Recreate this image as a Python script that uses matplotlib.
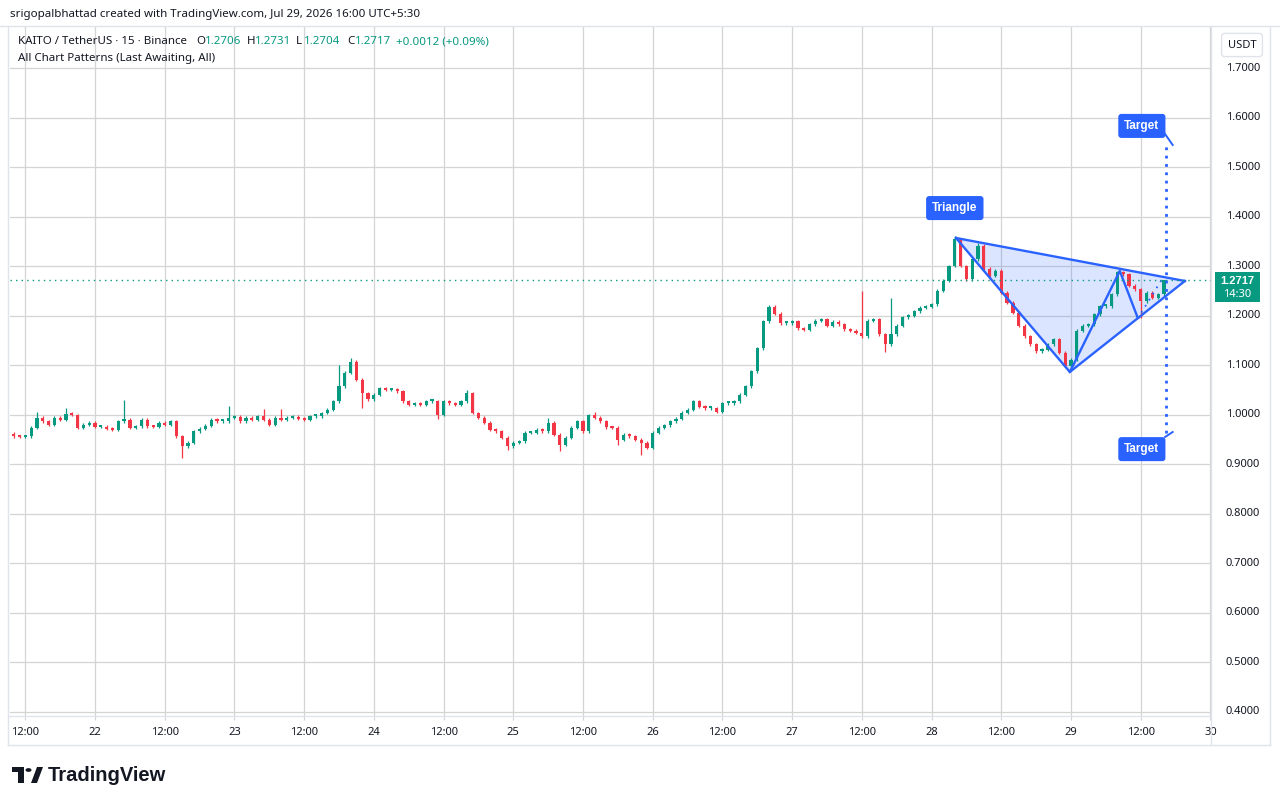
import matplotlib
matplotlib.use("Agg")
import matplotlib.pyplot as plt
import matplotlib.transforms as mtransforms
from matplotlib.patches import Rectangle, Polygon

plt.rcParams['font.family'] = ['Noto Sans', 'DejaVu Sans']

# hourly closes, starting Jul 21 10:00 (UTC+5:30)
closes = [
    0.957, 0.956, 0.957, 0.974, 0.994, 0.987, 0.980, 0.994, 0.990, 1.003,
    1.000, 0.974, 0.980, 0.984, 0.976, 0.976, 0.972, 0.970, 0.987, 0.990,
    0.974, 0.977, 0.990, 0.977, 0.976, 0.984, 0.980, 0.987, 0.957, 0.937,
    0.944, 0.967, 0.972, 0.978, 0.990, 0.987, 0.987, 0.994, 0.996, 0.987,
    0.994, 0.990, 0.997, 0.990, 0.980, 0.994, 0.990, 0.994, 0.996, 0.992,
    0.990, 0.997, 0.997, 1.004, 1.011, 1.028, 1.058, 1.085, 1.108, 1.071,
    1.044, 1.032, 1.041, 1.054, 1.051, 1.051, 1.048, 1.028, 1.021, 1.024,
    1.021, 1.028, 1.028, 1.000, 1.028, 1.024, 1.021, 1.028, 1.044, 1.004,
    0.994, 0.984, 0.970, 0.967, 0.954, 0.937, 0.944, 0.947, 0.964, 0.964,
    0.970, 0.967, 0.984, 0.960, 0.940, 0.954, 0.974, 0.987, 0.967, 0.999,
    0.994, 0.987, 0.975, 0.974, 0.950, 0.960, 0.957, 0.950, 0.944, 0.934,
    0.964, 0.974, 0.979, 0.987, 0.992, 1.005, 1.011, 1.028, 1.017, 1.014,
    1.014, 1.007, 1.024, 1.024, 1.028, 1.041, 1.058, 1.088, 1.135, 1.189,
    1.219, 1.205, 1.185, 1.185, 1.189, 1.175, 1.172, 1.183, 1.190, 1.193,
    1.180, 1.188, 1.183, 1.173, 1.170, 1.166, 1.159, 1.190, 1.193, 1.163,
    1.143, 1.163, 1.180, 1.197, 1.200, 1.210, 1.217, 1.219, 1.224, 1.251,
    1.271, 1.301, 1.355, 1.301, 1.274, 1.315, 1.342, 1.295, 1.281, 1.291,
    1.247, 1.227, 1.207, 1.180, 1.159, 1.143, 1.129, 1.132, 1.143, 1.153,
    1.126, 1.099, 1.112, 1.170, 1.180, 1.183, 1.203, 1.220, 1.220, 1.244,
    1.288, 1.284, 1.261, 1.254, 1.230, 1.247, 1.237, 1.244, 1.2717,
]
first_open = 0.962

# long wicks visible on the chart (hour index -> price)
spike_high = {4: 1.007, 9: 1.014, 19: 1.031, 37: 1.019, 43: 1.013, 46: 1.013,
              56: 1.100, 58: 1.115, 78: 1.051, 92: 0.994, 100: 1.006,
              146: 1.250, 151: 1.237, 162: 1.361, 166: 1.347, 198: 1.2731}
spike_low = {29: 0.913, 60: 1.014, 73: 0.992, 85: 0.929, 94: 0.927,
             104: 0.940, 108: 0.920, 150: 1.127, 182: 1.089, 194: 1.196}

tick_hours = list(range(2, 207, 12))
tick_names = ["12:00", "22", "12:00", "23", "12:00", "24", "12:00", "25",
              "12:00", "26", "12:00", "27", "12:00", "28", "12:00", "29",
              "12:00", "30"]
price_ticks = [0.4, 0.5, 0.6, 0.7, 0.8, 0.9, 1.0, 1.1, 1.2, 1.3, 1.4, 1.5, 1.6, 1.7]
last_price = 1.2717

# triangle pattern points (hour, price)
tri_top = (162.2, 1.3576)
tri_bottom = (181.8, 1.0869)
tri_apex = (201.6, 1.2707)
swing_high = (190.4, 1.291)
swing_low = (193.5, 1.196)
proj_start = (194.1, 1.2067)
proj_end = (197.8, 1.2768)
target_hour = 198.3
target_up = 1.5495
target_down = 0.9636

UP = '#089981'
DOWN = '#F23645'
BLUE = '#2962FF'
GRID = '#D4D4D4'
TXT = '#131722'

W, H = 1280, 805
fig = plt.figure(figsize=(12.8, 8.05), dpi=100)
fig.patch.set_facecolor('white')

def fx(px):
    return px / W

def fy(py):
    return 1 - py / H

ax = fig.add_axes([fx(10), fy(716), fx(1201), fy(27) - fy(716)])
ax.set_xlim(-0.64, 206.1)
ax.set_ylim(0.3919, 1.7838)

# grid
for t in tick_hours:
    ax.axvline(t, color=GRID, lw=0.9, zorder=0)
for p in price_ticks:
    ax.axhline(p, color=GRID, lw=0.9, zorder=0)

# triangle fill
ax.add_patch(Polygon([tri_top, tri_bottom, tri_apex], closed=True,
                     facecolor=BLUE, alpha=0.16, edgecolor='none', zorder=1))

# candles
opens = [first_open] + closes[:-1]
hours = list(range(len(closes)))
cols, lows, highs, bots, hts = [], [], [], [], []
for h, o, c in zip(hours, opens, closes):
    cols.append(UP if c >= o else DOWN)
    highs.append(spike_high.get(h, max(o, c) + 0.003))
    lows.append(spike_low.get(h, min(o, c) - 0.003))
    bots.append(min(o, c))
    hts.append(max(abs(c - o), 0.004))
ax.vlines(hours, lows, highs, colors=cols, lw=0.9, zorder=2)
ax.bar(hours, hts, bottom=bots, width=0.55, color=cols, zorder=2)

lw_p = 1.7
ax.plot([tri_top[0], tri_apex[0]], [tri_top[1], tri_apex[1]], color=BLUE, lw=lw_p, zorder=3)
ax.plot([tri_bottom[0], tri_apex[0]], [tri_bottom[1], tri_apex[1]], color=BLUE, lw=lw_p, zorder=3)
ax.plot([tri_top[0], tri_bottom[0], swing_high[0], swing_low[0]],
        [tri_top[1], tri_bottom[1], swing_high[1], swing_low[1]],
        color=BLUE, lw=lw_p, zorder=3)
ax.plot([proj_start[0], proj_end[0]], [proj_start[1], proj_end[1]],
        color=BLUE, lw=1.3, ls=(0, (1, 3)), zorder=3)

# last price line
ax.axhline(last_price, color=UP, lw=1.0, ls=(0, (1, 3)), zorder=3)

# target projection
ax.plot([target_hour, target_hour], [target_down, target_up], color=BLUE,
        lw=2, ls=(0, (1, 2)), zorder=3)
ax.plot([target_hour - 0.1, target_hour + 1.2], [target_up + 0.018, target_up - 0.004],
        color=BLUE, lw=1.4, zorder=3)
ax.plot([target_hour - 0.1, target_hour + 1.2], [target_down - 0.008, target_down + 0.002],
        color=BLUE, lw=1.4, zorder=3)

label_box = dict(boxstyle='round,pad=0.45,rounding_size=0.2', fc=BLUE, ec=BLUE)
lab = dict(color='white', fontsize=8.5, fontweight='bold', family='Liberation Sans',
           ha='center', va='center', bbox=label_box, zorder=5)
ax.text(194.2, 1.584, 'Target', **lab)
ax.text(194.2, 0.931, 'Target', **lab)
ax.text(162.0, 1.418, 'Triangle', **lab)

ax.set_xticks(tick_hours, tick_names)
ax.set_yticks([])
ax.tick_params(axis='x', length=3, color='#D1D4DC', pad=5, labelsize=8, labelcolor=TXT)
for s in ax.spines.values():
    s.set_visible(False)

# price scale
ax2 = fig.add_axes([fx(1211), fy(716), fx(59), fy(27) - fy(716)])
ax2.set_ylim(0.3919, 1.7838)
ax2.axis('off')
bt = mtransforms.blended_transform_factory(ax2.transAxes, ax2.transData)
for p in price_ticks:
    ax2.text(0.54, p, f"{p:.4f}", transform=bt, ha='center', va='center',
             fontsize=8, color=TXT)
ax2.add_patch(Rectangle((0.07, 1.228), 0.76, 0.061, transform=bt,
                        facecolor=UP, edgecolor='none', zorder=4))
ax2.text(0.45, 1.2715, f"{last_price:.4f}", transform=bt, ha='center', va='center',
         fontsize=8, fontweight='bold', family='Liberation Sans', color='white', zorder=5)
ax2.text(0.45, 1.2424, "14:30", transform=bt, ha='center', va='center',
         fontsize=8, color='white', zorder=5)

# frame lines
fl = dict(color='#E0E3EB', lw=1.0, transform=fig.transFigure)
fig.add_artist(plt.Line2D([fx(0), fx(1280)], [fy(26), fy(26)], **fl))
fig.add_artist(plt.Line2D([fx(8), fx(1270)], [fy(745), fy(745)], **fl))
fig.add_artist(plt.Line2D([fx(8), fx(8)], [fy(26), fy(745)], **fl))
fig.add_artist(plt.Line2D([fx(1211), fx(1211)], [fy(26), fy(745)], **fl))
fig.add_artist(plt.Line2D([fx(1270), fx(1270)], [fy(26), fy(745)], **fl))
fig.add_artist(plt.Line2D([fx(8), fx(1211)], [fy(716), fy(716)], **fl))

fig.text(fx(1242), fy(45), 'USDT', ha='center', va='center', fontsize=8, color=TXT,
         bbox=dict(boxstyle='round,pad=0.55,rounding_size=0.3', fc='white', ec='#E0E3EB'))

# header
fig.text(fx(10), fy(14), 'srigopalbhattad created with TradingView.com, Jul 29, 2026 16:00 UTC+5:30',
         ha='left', va='center', fontsize=8.3, color=TXT)
pieces = [(18, 'KAITO / TetherUS · 15 · Binance', TXT), (196, 'O', TXT), (205, '1.2706', UP),
          (247, 'H', TXT), (255, '1.2731', UP), (296, 'L', TXT), (304, '1.2704', UP),
          (347, 'C', TXT), (355, '1.2717', UP), (396, '+0.0012 (+0.09%)', UP)]
for px, s, c in pieces:
    fig.text(fx(px), fy(42), s, ha='left', va='center', fontsize=8.3, color=c)
fig.text(fx(18), fy(58), 'All Chart Patterns (Last Awaiting, All)', ha='left', va='center',
         fontsize=8.3, color=TXT)

# footer logo
lk = dict(facecolor='#131722', edgecolor='none', transform=fig.transFigure)
fig.add_artist(Rectangle((fx(12), fy(772)), fx(12), fy(767) - fy(772), **lk))
fig.add_artist(Rectangle((fx(18), fy(783)), fx(6), fy(767) - fy(783), **lk))
fig.add_artist(plt.Circle((fx(28.5), fy(770)), 3.0 / W, **lk))
fig.add_artist(Polygon([(fx(31), fy(783)), (fx(37), fy(783)), (fx(43), fy(767)), (fx(37), fy(767))], **lk))
fig.text(fx(48), fy(775), 'TradingView', ha='left', va='center', fontsize=14.5,
         fontweight='bold', family='Liberation Sans', color=TXT)

fig.savefig('out.png', dpi=100)
